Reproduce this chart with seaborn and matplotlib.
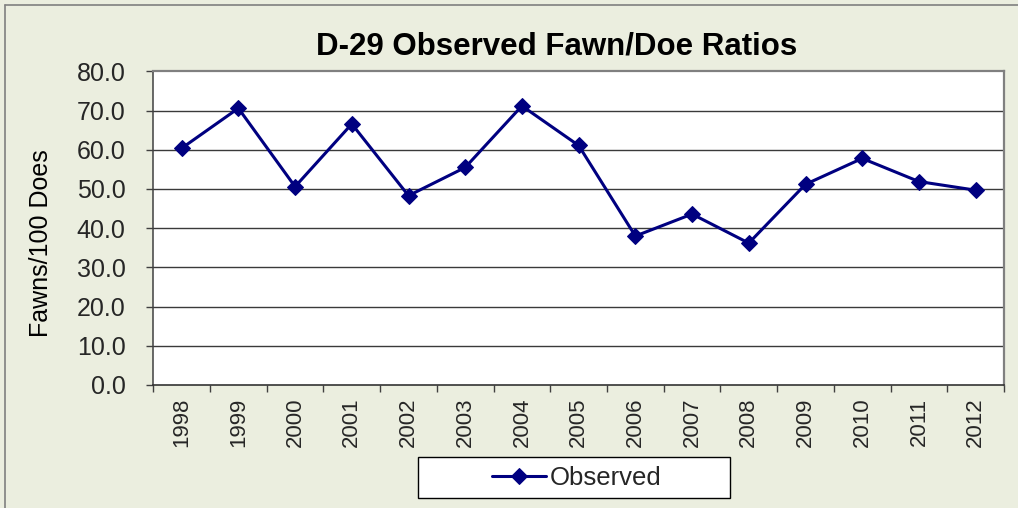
import matplotlib
matplotlib.use("Agg")
import matplotlib.pyplot as plt
import seaborn as sns
import pandas as pd
import numpy as np
from matplotlib.lines import Line2D
from matplotlib.patches import Rectangle
from matplotlib.ticker import FormatStrFormatter

years = ["1998", "1999", "2000", "2001", "2002", "2003", "2004", "2005",
         "2006", "2007", "2008", "2009", "2010", "2011", "2012"]
observed = [60.4, 70.6, 50.6, 66.6, 48.3, 55.5, 71.2, 61.1,
            38.0, 43.6, 36.2, 51.2, 57.8, 51.9, 49.7]
y_ticks = [0, 10, 20, 30, 40, 50, 60, 70, 80]

title = "D-29 Observed Fawn/Doe Ratios"
ylabel = "Fawns/100 Does"
series_name = "Observed"

sns.set_theme(style="white")
plt.rcParams["font.family"] = ["Liberation Sans", "DejaVu Sans"]

BG = "#EBEEDF"
NAVY = "#000080"

W, H = 1018, 508
fig = plt.figure(figsize=(W / 100, H / 100), dpi=100, facecolor=BG)

# figure border (top/left)
fig.add_artist(Line2D([4.5 / W, 4.5 / W], [0, 1 - 5 / H], color="#808080", lw=1.2, transform=fig.transFigure))
fig.add_artist(Line2D([4.5 / W, 1], [1 - 5 / H, 1 - 5 / H], color="#808080", lw=1.2, transform=fig.transFigure))

left, right, top, bottom = 153.3, 1004, 71.4, 385
ax = fig.add_axes([left / W, 1 - bottom / H, (right - left) / W, (bottom - top) / H])
ax.set_facecolor("white")

df = pd.DataFrame({"Year": years, "Value": observed})
sns.lineplot(data=df, x="Year", y="Value", ax=ax, color=NAVY, lw=2.2,
             marker="D", markersize=8, markeredgecolor=NAVY, markerfacecolor=NAVY,
             sort=False, label=series_name, legend=False)

ax.set_xlim(-0.5, len(years) - 0.5)
ax.set_ylim(0, 80)
ax.set_yticks(y_ticks)
ax.yaxis.set_major_formatter(FormatStrFormatter("%.1f"))
ax.grid(False)
for yv in y_ticks[1:-1]:
    ax.axhline(yv, color="#3a3a3a", lw=1.0, zorder=0.5)

ax.set_xticks(range(len(years)))
ax.set_xticklabels(years, rotation=90, fontsize=16)
ax.set_xticks(np.arange(-0.5, len(years), 1.0), minor=True)
ax.tick_params(axis="x", which="major", length=0, pad=9)
ax.tick_params(axis="x", which="minor", length=5, width=1.0, color="#404040", bottom=True, direction="out")
ax.tick_params(axis="y", which="major", length=5, width=1.0, color="#404040", left=True, direction="out",
               labelsize=18, pad=15)
ax.set_xlabel("")
ax.set_ylabel("")

for s in ["top", "right"]:
    ax.spines[s].set_color("#808080")
    ax.spines[s].set_linewidth(1.6)
ax.spines["left"].set_color("#404040")
ax.spines["left"].set_linewidth(1.1)
ax.spines["bottom"].set_color("#333333")
ax.spines["bottom"].set_linewidth(1.2)

fig.text(557 / W, 1 - 54.3 / H, title, ha="center", va="baseline",
         fontsize=22.5, fontweight="bold", color="black")
fig.text(41 / W, 1 - 243.5 / H, ylabel, ha="center", va="center",
         rotation=90, fontsize=18, color="black")

# legend box
lx0, lx1, ly0, ly1 = 418, 730, 457, 498
fig.add_artist(Rectangle((lx0 / W, 1 - ly1 / H), (lx1 - lx0) / W, (ly1 - ly0) / H,
                         transform=fig.transFigure, facecolor="white", edgecolor="black", lw=1.0))
handles, labels = ax.get_legend_handles_labels()
leg = fig.legend(handles, labels, loc="center", bbox_to_anchor=(577 / W, 1 - 478 / H),
                 frameon=False, fontsize=18.5, handlelength=2.1, handletextpad=0.15,
                 borderpad=0)
for h in leg.legend_handles:
    h.set_markersize(8)

fig.savefig("out.png", dpi=100, facecolor=BG)
